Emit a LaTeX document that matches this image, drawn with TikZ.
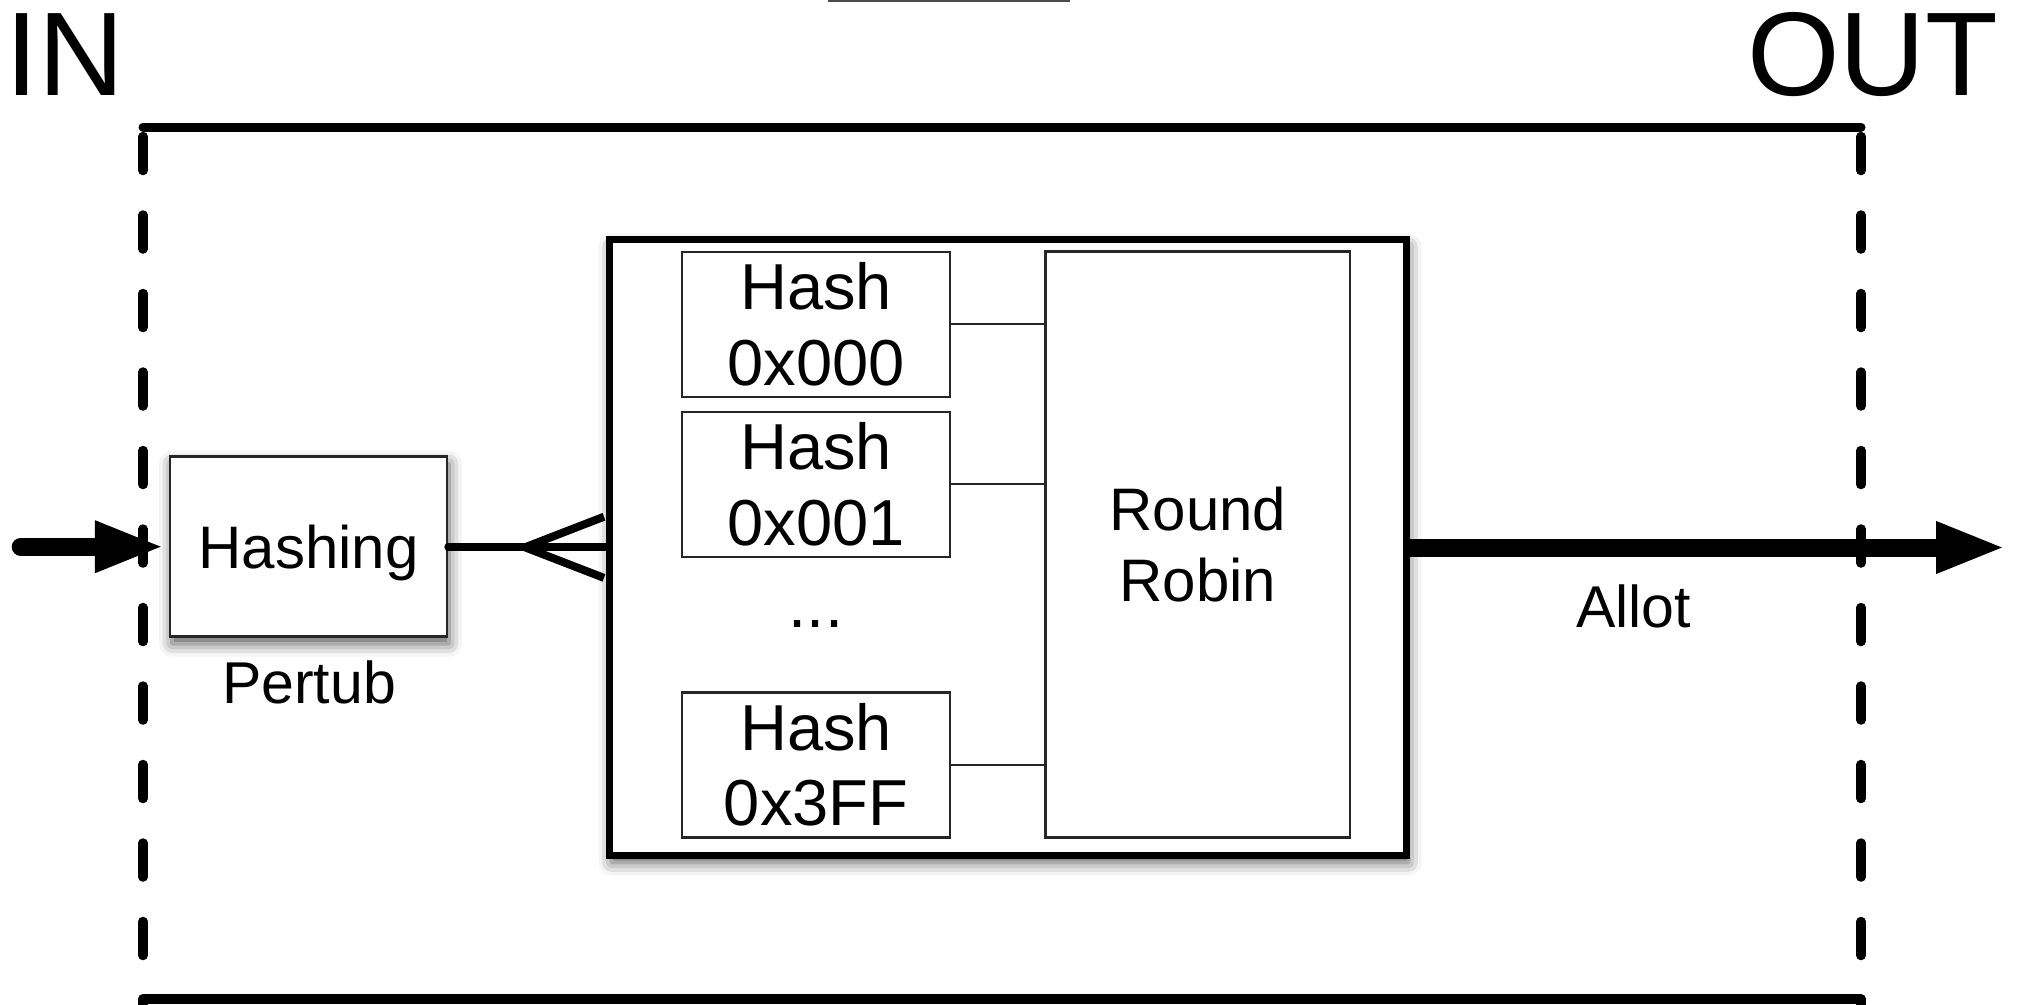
\documentclass[tikz,border=0pt]{standalone}
\usepackage{fontspec}
\setmainfont{Liberation Sans}
\usetikzlibrary{arrows.meta,shadows.blur,calc}
\begin{document}
\begin{tikzpicture}[x=1pt,y=-1pt,
  frameline/.style={line width=9pt,line cap=round},
  dashframe/.style={line width=9.5pt,line cap=round,dash pattern=on 34pt off 44.5pt},
  fatarrow/.style={line width=18pt,-{Triangle[length=70pt,width=47pt]}},
  boxshadow/.style={blur shadow={shadow xshift=2pt,shadow yshift=-7pt,shadow blur radius=13pt,shadow opacity=65}},
  hashbox/.style={draw=black!85,line width=2.5pt,minimum width=268pt,minimum height=145pt,inner sep=0pt,align=center,fill=white,font=\fontsize{65}{75.5}\selectfont},
  rrbox/.style={draw=black!85,line width=2.5pt,minimum width=304.5pt,minimum height=586pt,inner sep=0pt,align=center,fill=white,font=\fontsize{60}{71.6}\selectfont},
  hashingbox/.style={draw=black!85,line width=2.5pt,minimum width=277pt,minimum height=180pt,inner sep=0pt,fill=white,text depth=0pt,boxshadow,font=\fontsize{60}{70}\selectfont},
  bigbox/.style={draw=black,line width=7pt,minimum width=797pt,minimum height=616pt,inner sep=0pt,fill=white,boxshadow},
  lbl/.style={inner sep=0pt,font=\fontsize{59}{70}\selectfont},
  bigtext/.style={inner sep=0pt,font=\fontsize{119}{130}\selectfont},
  thinlink/.style={draw=black!85,line width=1.8pt},
  forkline/.style={line width=8pt,line join=round}
]
\useasboundingbox (0,0) rectangle (2018,1004);

% faint edge at the top
\draw[line width=3pt,black!70] (828,0.5) -- (1070,0.5);

% IN / OUT labels
\node[bigtext,anchor=base west] (in) at (5,95) {IN};
\node[bigtext,anchor=base west] (out) at (1747,95) {OUT};

% frame
\draw[frameline] (143,127) -- (1861,127);
\draw[frameline,line width=10pt] (143,999) -- (1861,999);
\draw[dashframe] (143,136.5) -- (143,1004);
\draw[dashframe] (1861,136.5) -- (1861,1004);

% hashing box
\node[hashingbox] (hashing) at (308.5,546.7) {Hashing};
\node[lbl,anchor=base] (pertub) at (309,703) {Pertub};

% big box
\node[bigbox] (big) at (1008,547.5) {};

% hash boxes
\node[hashbox] (h0) at (816,324.25) {Hash\\0x000};
\node[hashbox] (h1) at (816,484.35) {Hash\\0x001};
\node[hashbox] (h3) at (816,765) {Hash\\0x3FF};
\node[inner sep=0pt,anchor=base,font=\fontsize{65}{75}\selectfont] (dots) at (816,627) {...};

% round robin
\node[rrbox] (rr) at (1197.75,544.7) {Round\\Robin};

\draw[thinlink] (h0.east) -- (h0.east -| rr.west);
\draw[thinlink] (h1.east) -- (h1.east -| rr.west);
\draw[thinlink] (h3.east) -- (h3.east -| rr.west);

% input arrow
\coordinate (intail) at (20.7,546.7);
\draw[fatarrow,line cap=round,shorten >=4pt] (intail) -- (hashing.west);

% hashing -> big box with crow's foot
\coordinate (fork) at (525,547.3);
\coordinate (prongA) at (604,516.7);
\coordinate (prongB) at (604,577.9);
\draw[forkline,line cap=round] (hashing.east) -- (hashing.east -| big.west);
\draw[forkline] (prongA) -- (fork) -- (prongB);

% output arrow
\coordinate (outtip) at (2006,547.5);
\draw[fatarrow] (big.east) -- (outtip);
\node[lbl,anchor=base] (allot) at (1633.5,627) {Allot};
\end{tikzpicture}
\end{document}
